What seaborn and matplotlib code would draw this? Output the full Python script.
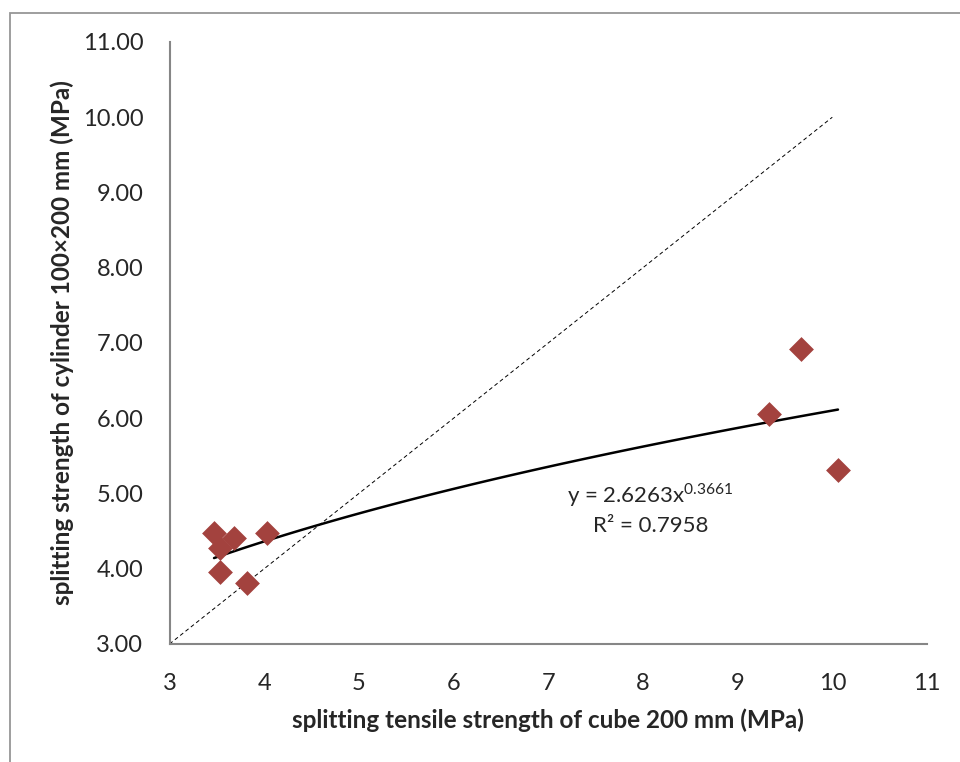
import numpy as np
import pandas as pd
import matplotlib
matplotlib.use("Agg")
import matplotlib.pyplot as plt
import seaborn as sns
from matplotlib.patches import Rectangle

# Data
cube_200 = [3.47, 3.68, 4.03, 3.53, 3.53, 3.82, 9.67, 9.33, 10.06]
cyl_100x200 = [4.47, 4.41, 4.48, 4.27, 3.95, 3.81, 6.92, 6.06, 5.31]

# Power trendline from the label: y = a * x^b
TREND_A = 2.6263
TREND_B = 0.3661
R2 = 0.7958

X_TICKS = [3, 4, 5, 6, 7, 8, 9, 10, 11]
Y_TICKS = [3, 4, 5, 6, 7, 8, 9, 10, 11]

sns.set_style("white")
plt.rcParams['font.family'] = ['Lato', 'DejaVu Sans']
plt.rcParams['mathtext.fontset'] = 'custom'
plt.rcParams['mathtext.rm'] = 'Lato'

df = pd.DataFrame({'cube': cube_200, 'cyl': cyl_100x200})

fig = plt.figure(figsize=(9.6, 7.62), dpi=100)
ax = fig.add_axes([0.1766, 0.1549, 0.7890, 0.7900])

# 1:1 reference line
ax.plot([3, 10], [3, 10], color='black', linestyle=(0, (4, 3)), linewidth=0.7)

# trendline over the data range
xs = np.linspace(min(cube_200), max(cube_200), 100)
trend = pd.DataFrame({'x': xs, 'y': TREND_A * xs ** TREND_B})
sns.lineplot(data=trend, x='x', y='y', color='black', linewidth=1.8, ax=ax)

sns.scatterplot(data=df, x='cube', y='cyl', marker='D', s=160, color='#A3423E',
                edgecolor='#A3423E', linewidth=0, ax=ax, zorder=3)

ax.text(8.08, 4.98, f"y = {TREND_A}x$^{{{TREND_B}}}$", ha='center', va='center', fontsize=16)
ax.text(8.08, 4.57, f"R² = {R2}", ha='center', va='center', fontsize=16)

ax.set_xlim(3, 11)
ax.set_ylim(3, 11)
ax.set_xticks(X_TICKS)
ax.set_yticks(Y_TICKS)
ax.set_yticklabels([f"{v:.2f}" for v in Y_TICKS])
ax.tick_params(length=0, labelsize=17)
ax.tick_params(axis='y', pad=19)
ax.tick_params(axis='x', pad=21)

for side in ['top', 'right']:
    ax.spines[side].set_visible(False)
for side in ['left', 'bottom']:
    ax.spines[side].set_color('#868686')
    ax.spines[side].set_linewidth(1.5)

ax.set_xlabel("splitting tensile strength of cube 200 mm (MPa)", fontsize=17.5,
              fontweight='bold', labelpad=10)
ax.set_ylabel("splitting strength of cylinder 100×200 mm (MPa)", fontsize=17.5,
              fontweight='bold', labelpad=6)

# outer chart frame (cut off at right and bottom)
fig.patches.append(Rectangle((9.5 / 960, -0.1), 1.2, 1 - 12.5 / 762 + 0.1,
                             transform=fig.transFigure, fill=False,
                             edgecolor='#969696', linewidth=1.3))

fig.savefig("out.png", dpi=100)
